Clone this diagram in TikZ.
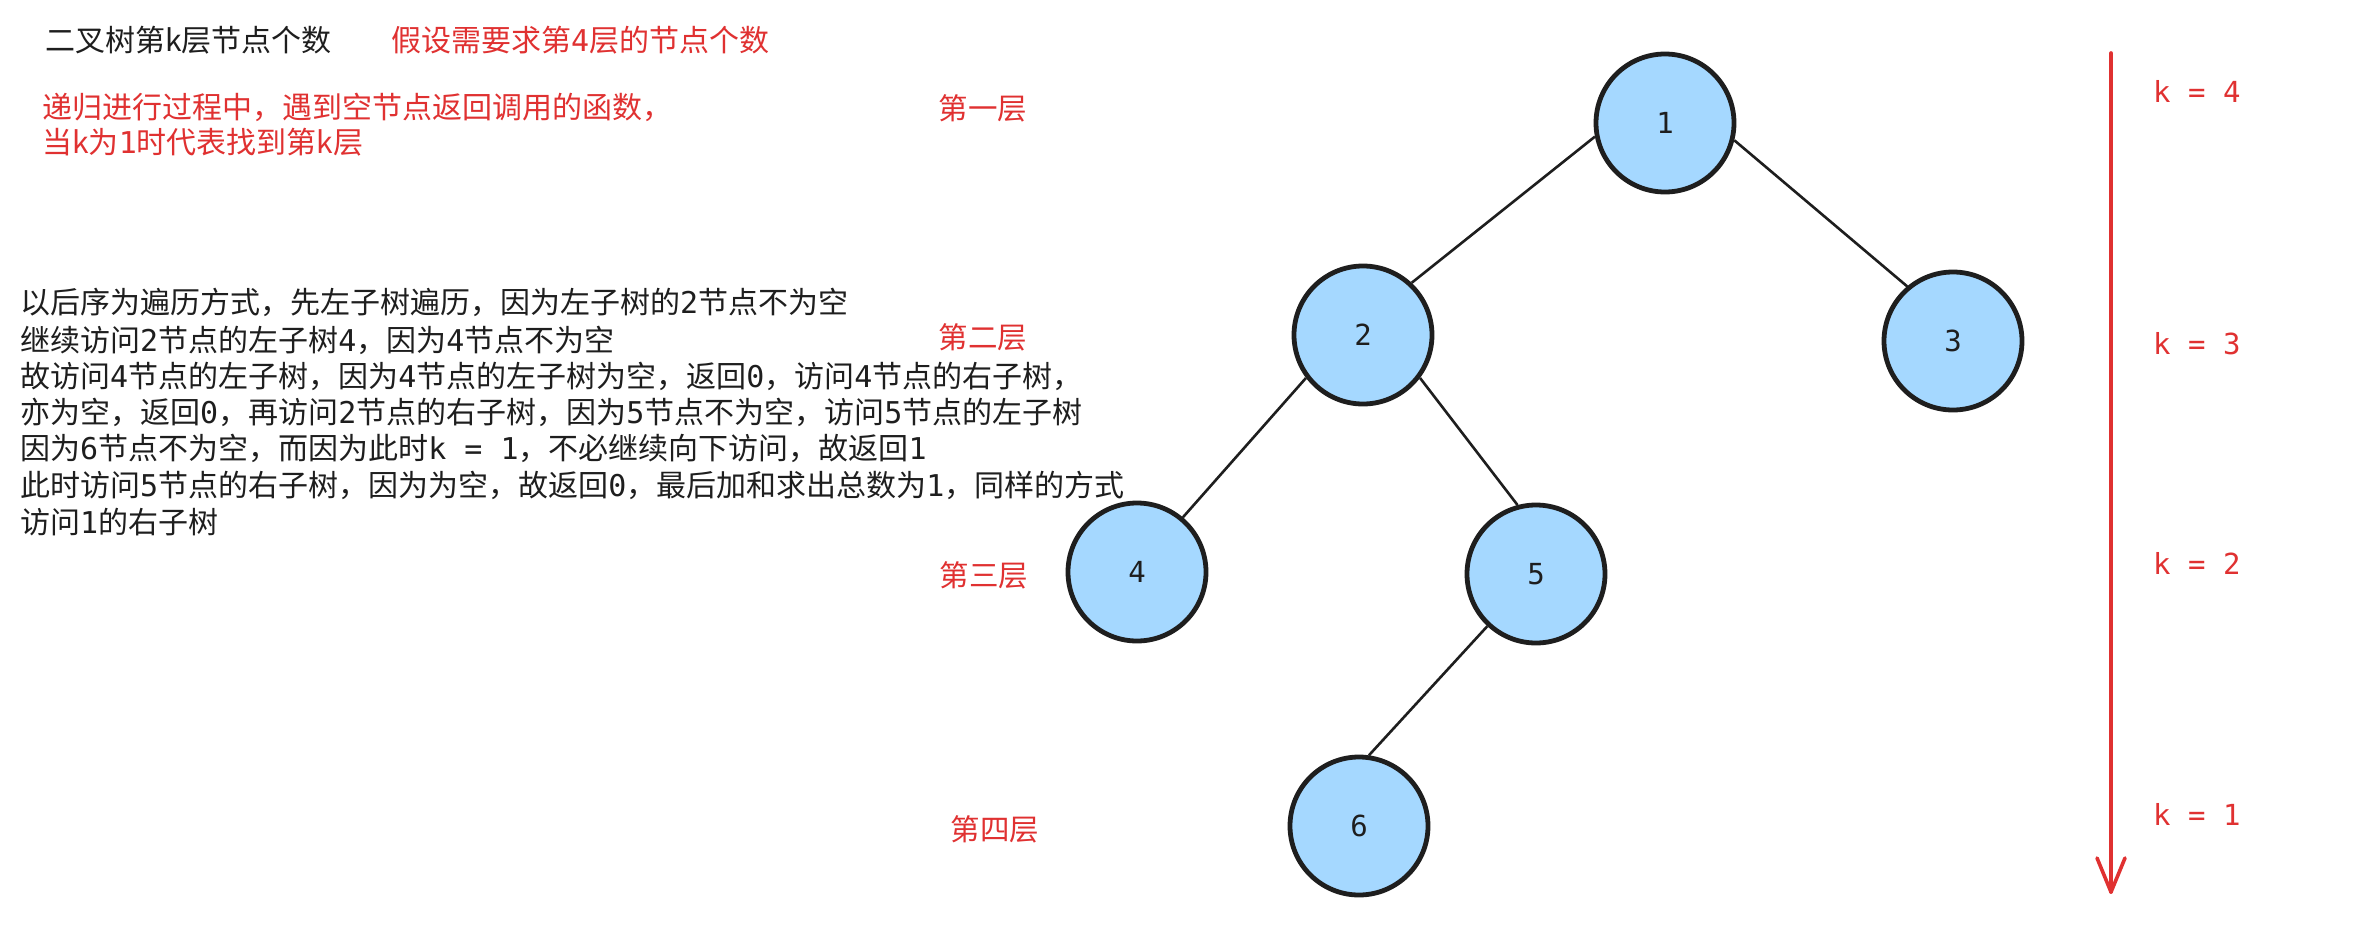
\documentclass[tikz,border=0pt]{standalone}
\usepackage{fontspec}
\setmainfont{Noto Sans CJK SC}
\newfontfamily\monofam{DejaVu Sans Mono}
\newcommand{\mtx}[1]{{\monofam #1}}
\definecolor{exred}{HTML}{E03131}
\definecolor{exink}{HTML}{1E1E1E}
\definecolor{exblue}{HTML}{A5D8FF}
\tikzset{
  treenode/.style={circle, draw=exink, fill=exblue, line width=4.8pt, minimum size=138pt, inner sep=0pt, font=\fontsize{29}{35}\monofam, text=exink},
  edge/.style={draw=exink, line width=2.6pt},
  txt/.style={anchor=west, inner sep=0pt, font=\fontsize{30}{36}\selectfont, text height=25.5pt, text depth=4.5pt},
  redtxt/.style={txt, text=exred},
  blacktxt/.style={txt, text=exink},
  layer/.style={anchor=center, inner sep=0pt, font=\fontsize{29.5}{36}\selectfont, text=exred, text height=25pt, text depth=4.5pt},
  klabel/.style={anchor=west, inner sep=0pt, font=\fontsize{29}{35}\monofam, text=exred},
  karrow/.style={draw=exred, line width=3.6pt, line cap=round, line join=round}
}
\begin{document}
\begin{tikzpicture}[x=1pt,y=-1pt]
\useasboundingbox[fill=white] (0,0) rectangle (2378,935);

% texts at top left
\node[blacktxt] (title) at (45,41) {二叉树第k层节点个数};
\node[redtxt] (assume) at (391,41) {假设需要求第\mtx{4}层的节点个数};
\node[redtxt] (rec1) at (42,108) {递归进行过程中，遇到空节点返回调用的函数，};
\node[redtxt] (rec2) at (42,143) {当k为\mtx{1}时代表找到第k层};

% explanation paragraph
\node[blacktxt] (p1) at (20,303) {以后序为遍历方式，先左子树遍历，因为左子树的\mtx{2}节点不为空};
\node[blacktxt] (p2) at (20,341) {继续访问\mtx{2}节点的左子树\mtx{4}，因为\mtx{4}节点不为空};
\node[blacktxt] (p3) at (20,377) {故访问\mtx{4}节点的左子树，因为\mtx{4}节点的左子树为空，返回\mtx{0}，访问\mtx{4}节点的右子树，};
\node[blacktxt] (p4) at (20,413) {亦为空，返回\mtx{0}，再访问\mtx{2}节点的右子树，因为\mtx{5}节点不为空，访问\mtx{5}节点的左子树};
\node[blacktxt] (p5) at (20,449) {因为\mtx{6}节点不为空，而因为此时\mtx{k = 1}，不必继续向下访问，故返回\mtx{1}};
\node[blacktxt] (p6) at (20,486) {此时访问\mtx{5}节点的右子树，因为为空，故返回\mtx{0}，最后加和求出总数为\mtx{1}，同样的方式};
\node[blacktxt] (p7) at (20,523) {访问\mtx{1}的右子树};

% layer labels
\node[layer] (L1) at (983,109) {第一层};
\node[layer] (L2) at (983,338) {第二层};
\node[layer] (L3) at (984,576) {第三层};
\node[layer] (L4) at (995,830) {第四层};

% tree
\node[treenode] (n1) at (1665,123) {1};
\node[treenode] (n2) at (1363,335) {2};
\node[treenode] (n3) at (1953,341) {3};
\node[treenode] (n4) at (1137,572) {4};
\node[treenode] (n5) at (1536,574) {5};
\node[treenode] (n6) at (1359,826) {6};

\draw[edge] (n1.191) -- (n2.47);
\draw[edge] (n1.346) -- (n3.130);
\draw[edge] (n2.217) -- (n4.50);
\draw[edge] (n2.323) -- (n5.105);
\draw[edge] (n5.227) -- (n6.82);

% k arrow
\coordinate (atop) at (2111,53);
\coordinate (abot) at (2111,892);
\coordinate (aleft) at (2097,858);
\coordinate (aright) at (2125,858);
\draw[karrow] (atop) -- (abot);
\draw[karrow] (aleft) -- (abot) -- (aright);

\node[klabel] (k4) at (2153,91) {k = 4};
\node[klabel] (k3) at (2153,344) {k = 3};
\node[klabel] (k2) at (2153,563) {k = 2};
\node[klabel] (k1) at (2153,814) {k = 1};
\end{tikzpicture}
\end{document}
